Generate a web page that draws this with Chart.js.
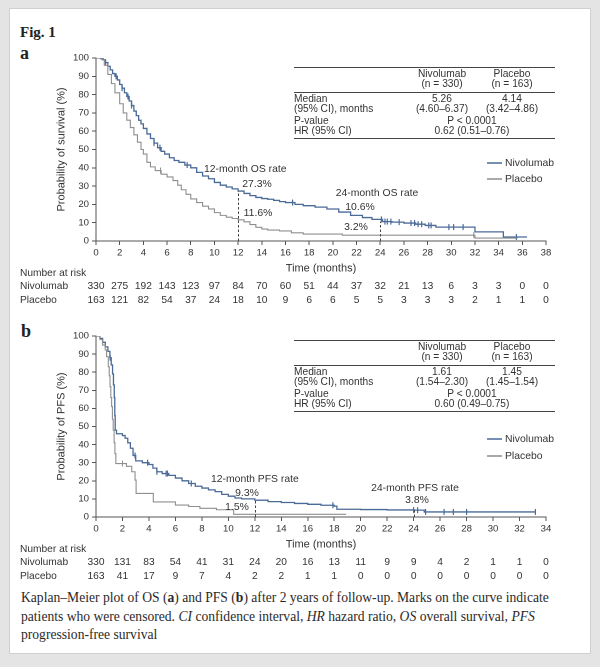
<!DOCTYPE html>
<html><head><meta charset="utf-8">
<script src="https://cdn.jsdelivr.net/npm/chart.js@4.4.1/dist/chart.umd.min.js"></script>
<style>
html,body{margin:0;padding:0;}
body{position:relative;width:600px;height:667px;background:#e4e4e4;overflow:hidden;}
#inner{position:absolute;left:9px;top:8px;width:582px;height:646px;background:#fff;border:1px solid #d0d0d0;box-sizing:border-box;}
canvas{position:absolute;left:0;}
.t{position:absolute;font-family:"Liberation Sans",Arial,sans-serif;font-size:10.2px;color:#333;white-space:nowrap;line-height:12px;height:12px;}
.rule{position:absolute;height:0;border-top:1.2px solid #444;}
.serif{position:absolute;font-family:"Liberation Serif","DejaVu Serif",serif;color:#222;white-space:nowrap;}
#caption{left:21px;top:589px;font-size:13.6px;line-height:18.5px;color:#2a2a2a;}
</style></head>
<body>
<div id="inner"></div>
<div class="serif" style="left:20px;top:24px;font-size:15px;font-weight:bold;">Fig. 1</div>
<div class="serif" style="left:20px;top:43px;font-size:18px;font-weight:bold;">a</div>
<div class="serif" style="left:21px;top:321px;font-size:18px;font-weight:bold;">b</div>
<div class="serif" id="caption">Kaplan–Meier plot of OS (<b>a</b>) and PFS (<b>b</b>) after 2 years of follow-up. Marks on the curve indicate<br>patients who were censored. <i>CI</i> confidence interval, <i>HR</i> hazard ratio, <i>OS</i> overall survival, <i>PFS</i><br>progression-free survival</div>
<canvas id="cA" width="600" height="320" style="top:0;width:600px;height:320px"></canvas>
<canvas id="cB" width="600" height="280" style="top:320px;width:600px;height:280px"></canvas>
<script>
// ---------- DATA ----------
const seriesNames = ['Nivolumab', 'Placebo'];
const tableN = ['(n = 330)', '(n = 163)'];

// OS (panel a)
const osNivoT = [0,0.4,0.6,0.8,1.0,1.2,1.4,1.6,1.8,2.0,2.2,2.4,2.6,2.8,3.0,3.2,3.4,3.6,3.8,4.0,4.3,4.6,4.9,5.2,5.5,5.8,6.2,6.6,7.0,7.5,8.0,8.5,9.0,9.5,10.0,10.5,11.0,11.5,12.0,12.5,13.0,13.5,14.0,14.5,15.0,15.5,16.0,16.8,17.5,18.5,19.5,20.5,21.5,22.5,23.3,24.2,25.0,26.0,27.0,27.8,28.7,32.0,34.4,36.4];
const osNivoS = [100,99.7,99,97.5,95.5,93.5,91.5,90,88,85.5,83.5,81,79,76.5,74,71,68.5,66,64,61.5,58.5,56,53.5,51,49,47.5,45.5,44,43,41.5,40,37.5,35.5,34,32,30.5,29.5,28.5,27.3,26,24.8,23.8,23.2,22.8,22.2,21.5,21,20,19.3,18.5,17.5,15.8,14,12.8,11.8,10.6,10.3,9.8,9.2,8.5,7.6,5,2.2,2.2];
const osNivoCens = [0.8,1.7,2.2,2.7,3.0,4.9,5.4,7.7,16.6,24.1,24.4,24.6,24.9,25.6,26.6,26.9,27.2,27.5,28.1,28.3,29.8,30.2,31.0,35.5];
const osPlacT = [0,0.5,0.7,1.0,1.3,1.6,2.0,2.3,2.6,2.9,3.2,3.5,3.8,4.0,4.3,4.6,5.0,5.5,6.0,6.5,6.9,7.2,7.6,8.0,8.5,9.0,9.5,10.0,10.5,11.0,11.5,12.0,12.5,13.0,13.5,14.0,14.5,15.5,16.5,17.5,20.8,32.0,35.6];
const osPlacS = [100,99,96,91,86,81,75,70,66,62,58,54,50,47.5,43,40.5,38.5,36.5,35,33,30.5,28,25.5,23,21,19,17.5,15.5,14,13,12.3,11.6,10.5,9,7.5,6.5,6,5.5,4.5,3.8,3.2,1.6,1.6];
const osPlacCens = [5.45,31.9];
const osRiskTimes = [0,2,4,6,8,10,12,14,16,18,20,22,24,26,28,30,32,34,36,38];
const osRiskNivo = [330,275,192,143,123,97,84,70,60,51,44,37,32,21,13,6,3,3,0,0];
const osRiskPlac = [163,121,82,54,37,24,18,10,9,6,6,5,5,3,3,3,2,1,1,0];
const osRates = [[12, 27.3, 11.6], [24, 10.6, 3.2]];
const osMedian = ['5.26', '4.14'];
const osCI = ['(4.60–6.37)', '(3.42–4.86)'];
const osP = 'P < 0.0001';
const osHR = '0.62 (0.51–0.76)';

// PFS (panel b)
const pfsNivoT = [0,0.3,0.5,0.7,0.9,1.05,1.15,1.25,1.32,1.38,1.42,1.45,1.55,2.0,2.2,2.4,2.6,2.8,3.0,3.5,4.0,4.3,4.6,5.0,5.5,6.0,6.5,7.0,7.5,8.0,8.5,9.0,9.5,10.0,10.5,11.0,12.0,13.0,14.0,15.0,16.0,17.0,18.0,18.2,20.0,22.0,24.0,24.8,33.2];
const pfsNivoS = [100,98.7,96.5,94,91.5,88,84,79,73,66,56,48,46,45,43.5,41,38,34,31,30,29,27,25,24,23,21.5,20,18.5,17,16,15,14,12.5,11.5,10.5,10,9.3,8.5,8,7.5,7,6.5,6,4.3,4.1,3.9,3.8,2.8,2.8];
const pfsNivoCens = [1.07,2.95,3.9,4.6,5.3,5.4,7.2,17.9,24.0,24.3,24.9,26.3,27.0,28.0,33.2];
const pfsPlacT = [0,0.3,0.5,0.7,0.8,0.93,1.0,1.06,1.12,1.18,1.24,1.3,1.37,1.43,1.5,2.3,2.7,2.95,3.03,4.33,6.0,7.0,7.85,9.1,10.4,18.9];
const pfsPlacS = [100,98,95,92.3,88.6,83,78,72,66,61,54,48,41,35,29.5,28,25,20.4,13,8.3,6.6,5.8,4.8,4.0,1.5,1.5];
const pfsPlacCens = [2.0];
const pfsRiskTimes = [0,2,4,6,8,10,12,14,16,18,20,22,24,26,28,30,32,34];
const pfsRiskNivo = [330,131,83,54,41,31,24,20,16,13,11,9,9,4,2,1,1,0];
const pfsRiskPlac = [163,41,17,9,7,4,2,2,1,1,0,0,0,0,0,0,0,0];
const pfsRates = [[12, 9.3, 1.5], [24, 3.8, null]];
const pfsMedian = ['1.61', '1.45'];
const pfsCI = ['(1.54–2.30)', '(1.45–1.54)'];
const pfsP = 'P < 0.0001';
const pfsHR = '0.60 (0.49–0.75)';

// ---------- STYLE ----------
const NIVO = '#4a6a98', PLAC = '#8e8e8e', AXIS = '#555', TXT = '#333';
const FONT = '"Liberation Sans", Arial, sans-serif';

// ---------- HTML tables ----------
function addText(s, x, y, align) {
  const d = document.createElement('div');
  d.className = 't'; d.textContent = s;
  d.style.top = (y - 6) + 'px';
  d.style.left = x + 'px';
  if (align === 'center') d.style.transform = 'translateX(-50%)';
  document.body.appendChild(d);
}
function addRule(x1, x2, y) {
  const d = document.createElement('div');
  d.className = 'rule'; d.style.left = x1 + 'px'; d.style.width = (x2 - x1) + 'px'; d.style.top = y + 'px';
  document.body.appendChild(d);
}
function makeTable(top, median, ci, p, hr) {
  const L = 294, R = 555, c1 = 442, c2 = 512, cm = 472;
  addRule(L, R, top);
  addText(seriesNames[0], c1, top + 7, 'center'); addText(seriesNames[1], c2, top + 7, 'center');
  addText(tableN[0], c1, top + 16.5, 'center'); addText(tableN[1], c2, top + 16.5, 'center');
  addRule(L, R, top + 24.5);
  addText('Median', L, top + 31.5); addText(median[0], c1, top + 31.5, 'center'); addText(median[1], c2, top + 31.5, 'center');
  addText('(95% CI), months', L, top + 42); addText(ci[0], c1, top + 42, 'center'); addText(ci[1], c2, top + 42, 'center');
  addText('P-value', L, top + 53.5); addText(p, cm, top + 53.5, 'center');
  addText('HR (95% CI)', L, top + 63.5); addText(hr, cm, top + 63.5, 'center');
  addRule(L, R, top + 70.5);
}
makeTable(67, osMedian, osCI, osP, osHR);
makeTable(340, pfsMedian, pfsCI, pfsP, pfsHR);

// ---------- Charts ----------
function pts(T, S) { return T.map((t, i) => ({ x: t, y: S[i] })); }
function km(T, S, t) { let v = S[0]; for (let i = 0; i < T.length; i++) { if (T[i] <= t) v = S[i]; } return v; }
function cens(C, T, S) { return C.map(t => ({ x: t, y: km(T, S, t) })); }

const panelPlugin = {
  id: 'panel',
  afterDraw(chart, args, o) {
    const { ctx, scales: { x, y } } = chart;
    ctx.save();
    ctx.setLineDash([2.5, 2]); ctx.strokeStyle = '#444'; ctx.lineWidth = 1;
    o.rates.forEach(r => {
      const px = Math.round(x.getPixelForValue(r[0])) + 0.5;
      ctx.beginPath(); ctx.moveTo(px, y.getPixelForValue(0)); ctx.lineTo(px, y.getPixelForValue(r[1])); ctx.stroke();
    });
    ctx.setLineDash([]);
    ctx.font = '10.4px ' + FONT; ctx.fillStyle = TXT; ctx.textBaseline = 'middle';
    o.labels.forEach(l => { ctx.textAlign = l[3]; ctx.fillText(l[0], l[1], l[2] - o.top); });
    o.legend.forEach((lg, i) => {
      const yy = lg[1] - o.top;
      ctx.strokeStyle = [NIVO, PLAC][i]; ctx.lineWidth = 1.5;
      ctx.beginPath(); ctx.moveTo(487, yy); ctx.lineTo(502, yy); ctx.stroke();
      ctx.textAlign = 'left'; ctx.fillStyle = TXT; ctx.fillText(lg[0], 505, yy);
    });
    const b = chart.chartArea.bottom;
    ctx.font = '10.2px ' + FONT;
    ctx.textAlign = 'left';
    ctx.fillText('Number at risk', 20, b + 32);
    ctx.fillText(seriesNames[0], 20, b + 45);
    ctx.fillText(seriesNames[1], 20, b + 59);
    ctx.textAlign = 'center';
    o.riskT.forEach((t, i) => {
      const px = x.getPixelForValue(t);
      ctx.fillText(String(o.riskN[i]), px, b + 45);
      ctx.fillText(String(o.riskP[i]), px, b + 59);
    });
    ctx.restore();
  }
};

function makeChart(id, cfg) {
  const H = cfg.H;
  const xh = 34;
  return new Chart(document.getElementById(id), {
    type: 'line',
    data: {
      datasets: [
        { data: pts(cfg.pT, cfg.pS), borderColor: PLAC, borderWidth: 1.1, stepped: 'before', pointRadius: 0, fill: false },
        { data: pts(cfg.nT, cfg.nS), borderColor: NIVO, borderWidth: 1.3, stepped: 'before', pointRadius: 0, fill: false },
        { data: cens(cfg.pC, cfg.pT, cfg.pS), showLine: false, pointStyle: 'line', rotation: 90, pointRadius: 3, pointBorderWidth: 1, borderColor: PLAC, pointBorderColor: PLAC },
        { data: cens(cfg.nC, cfg.nT, cfg.nS), showLine: false, pointStyle: 'line', rotation: 90, pointRadius: 3, pointBorderWidth: 1.2, borderColor: NIVO, pointBorderColor: NIVO }
      ]
    },
    options: {
      responsive: false, animation: false, devicePixelRatio: 2,
      layout: { padding: { left: 55, right: 54, top: cfg.top, bottom: H - cfg.bottom - xh } },
      plugins: { legend: { display: false }, tooltip: { enabled: false },
        panel: { top: cfg.offset, rates: cfg.rates, labels: cfg.labels, legend: cfg.legend, riskT: cfg.riskT, riskN: cfg.riskN, riskP: cfg.riskP } },
      scales: {
        x: { type: 'linear', min: 0, max: cfg.xmax,
          afterFit: s => { s.height = xh; },
          ticks: { stepSize: 2, autoSkip: false, maxRotation: 0, padding: 2, color: TXT, font: { family: FONT, size: 9.6 } },
          grid: { drawOnChartArea: false, tickLength: 4, color: AXIS },
          border: { color: AXIS, width: 1 },
          title: { display: true, text: 'Time (months)', color: TXT, font: { family: FONT, size: 11 }, padding: 0 } },
        y: { min: 0, max: 100,
          afterFit: s => { s.width = 41; },
          ticks: { stepSize: 10, padding: 3, color: TXT, font: { family: FONT, size: 9.6 } },
          grid: { drawOnChartArea: false, tickLength: 4, color: AXIS },
          border: { color: AXIS, width: 1 },
          title: { display: true, text: cfg.ytitle, color: TXT, font: { family: FONT, size: 11 }, padding: 0 } }
      }
    },
    plugins: [panelPlugin]
  });
}

makeChart('cA', {
  H: 320, top: 58, bottom: 241, offset: 0, xmax: 38, ytitle: 'Probability of survival (%)',
  nT: osNivoT, nS: osNivoS, nC: osNivoCens, pT: osPlacT, pS: osPlacS, pC: osPlacCens,
  rates: osRates.map(r => [r[0], r[1]]),
  labels: [['12-month OS rate', 204, 169, 'left'], [osRates[0][1] + '%', 257, 184, 'center'], [osRates[0][2] + '%', 258, 213, 'center'],
           ['24-month OS rate', 377, 193, 'center'], [osRates[1][1] + '%', 360, 207, 'center'], [osRates[1][2] + '%', 356, 227, 'center']],
  legend: [[seriesNames[0], 163], [seriesNames[1], 179]],
  riskT: osRiskTimes, riskN: osRiskNivo, riskP: osRiskPlac
});
makeChart('cB', {
  H: 280, top: 16, bottom: 197, offset: 320, xmax: 34, ytitle: 'Probability of PFS (%)',
  nT: pfsNivoT, nS: pfsNivoS, nC: pfsNivoCens, pT: pfsPlacT, pS: pfsPlacS, pC: pfsPlacCens,
  rates: pfsRates.map(r => [r[0], r[1]]),
  labels: [['12-month PFS rate', 211, 479, 'left'], [pfsRates[0][1] + '%', 247, 493, 'center'], [pfsRates[0][2] + '%', 237, 507, 'center'],
           ['24-month PFS rate', 415, 488, 'center'], [pfsRates[1][1] + '%', 417, 500, 'center']],
  legend: [[seriesNames[0], 439], [seriesNames[1], 456]],
  riskT: pfsRiskTimes, riskN: pfsRiskNivo, riskP: pfsRiskPlac
});
</script>
</body></html>
